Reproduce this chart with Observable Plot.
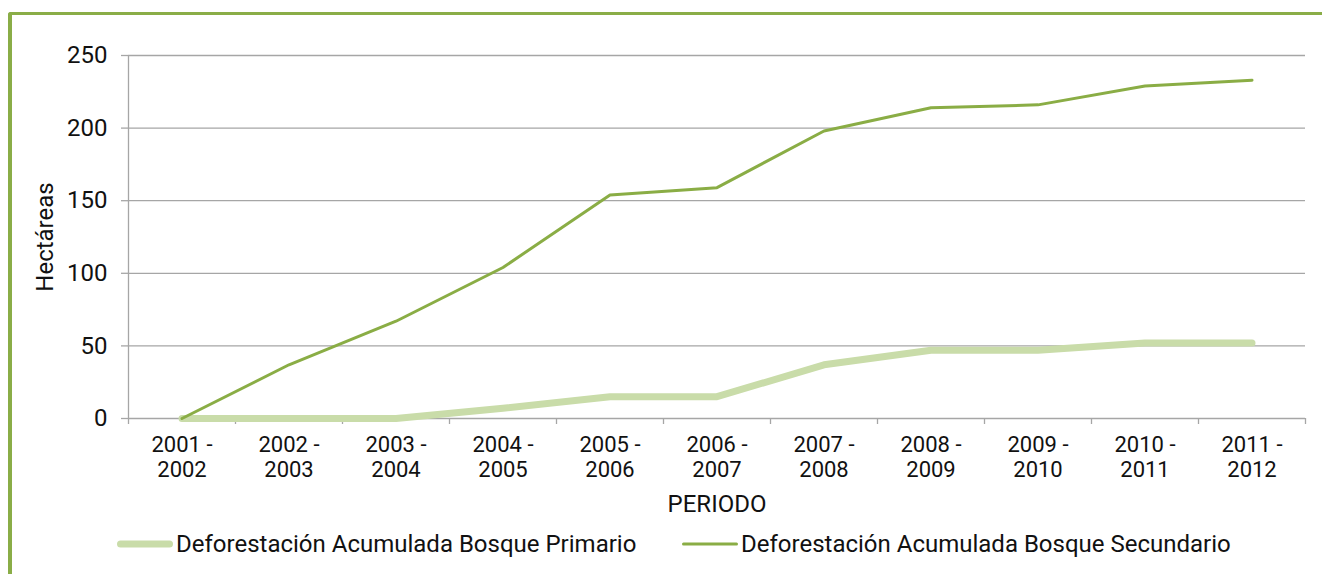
<!DOCTYPE html>
<html>
<head>
<meta charset="utf-8">
<script src="https://cdn.jsdelivr.net/npm/d3@7"></script>
<script src="https://cdn.jsdelivr.net/npm/@observablehq/plot@0.6"></script>
<style>
  html, body { margin: 0; padding: 0; background: #fff; width: 1322px; height: 574px; overflow: hidden; font-family: Roboto, sans-serif; }
  #frame { position: absolute; left: 8px; top: 12px; width: 2000px; height: 2000px; border-left: 4px solid #8aad47; border-top: 3px solid #8aad47; border-top-left-radius: 3px; }
  #chart { position: absolute; left: 0; top: 0; }
  #legend { position: absolute; left: 0; top: 528px; width: 1322px; height: 32px; font-size: 24px; color: #111; }
  .item { position: absolute; top: 0; display: flex; align-items: center; height: 32px; white-space: nowrap; }
  .item svg { margin-right: 2px; }
</style>
</head>
<body>
<div id="frame"></div>
<div id="chart"></div>
<div id="legend"></div>
<script>
const periodos = ["2001 - 2002","2002 - 2003","2003 - 2004","2004 - 2005","2005 - 2006","2006 - 2007","2007 - 2008","2008 - 2009","2009 - 2010","2010 - 2011","2011 - 2012"];
const primario   = [0, 0, 0, 7, 15, 15, 37, 47, 47, 52, 52];
const secundario = [0, 37, 67, 104, 154, 159, 198, 214, 216, 229, 233];
const yTicks = [0, 50, 100, 150, 200, 250];
const serieNames = ["Deforestación Acumulada Bosque Primario", "Deforestación Acumulada Bosque Secundario"];
const colors = ["#c9dca9", "#8aad45"];
const widths = [7, 3];

const rowsP = periodos.map((p, i) => ({pos: i + 0.5, periodo: p, valor: primario[i]}));
const rowsS = periodos.map((p, i) => ({pos: i + 0.5, periodo: p, valor: secundario[i]}));
const boundaries = d3.range(0, periodos.length + 1);
const centers = periodos.map((_, i) => i + 0.5);
const gray = "#a6a6a6";

const chart = Plot.plot({
  width: 1322,
  height: 522,
  marginLeft: 128,
  marginRight: 17,
  marginTop: 55,
  marginBottom: 104,
  style: {fontFamily: "Roboto", color: "#111", background: "transparent", overflow: "visible"},
  x: {type: "linear", domain: [0, periodos.length], axis: null},
  y: {domain: [0, 250], axis: null},
  marks: [
    Plot.gridY(yTicks, {stroke: gray, strokeOpacity: 1, strokeWidth: 1.3}),
    Plot.axisY(yTicks, {tickSize: 7, tickFormat: () => "", label: null, stroke: gray, strokeWidth: 1.3}),
    Plot.axisY(yTicks, {tickSize: 0, tickPadding: 21, fontSize: 24, label: null, fill: "#111"}),
    Plot.ruleX([0], {y1: 0, y2: 250, stroke: gray, strokeWidth: 1.3}),
    Plot.axisX(boundaries, {tickSize: 6, tickFormat: () => "", label: null, stroke: gray, strokeWidth: 1.3}),
    Plot.axisX(centers, {tickSize: 0, tickPadding: 16, fontSize: 22, lineHeight: 1.13, label: null, fill: "#111",
      tickFormat: d => periodos[Math.floor(d)].replace(" - ", " -\n")}),
    Plot.text(["PERIODO"], {frameAnchor: "bottom", dy: 93, fontSize: 24, fill: "#111"}),
    Plot.text(["Hectáreas"], {frameAnchor: "left", textAnchor: "middle", dx: -83, rotate: -90, fontSize: 24, fill: "#111"}),
    Plot.line(rowsP, {x: "pos", y: "valor", stroke: colors[0], strokeWidth: widths[0], strokeLinecap: "round", strokeLinejoin: "round"}),
    Plot.line(rowsS, {x: "pos", y: "valor", stroke: colors[1], strokeWidth: widths[1], strokeLinecap: "round", strokeLinejoin: "round"})
  ]
});
document.getElementById("chart").appendChild(chart);

const legend = document.getElementById("legend");
const lefts = [114, 679];
serieNames.forEach((name, k) => {
  const item = document.createElement("div");
  item.className = "item";
  item.style.left = lefts[k] + "px";
  item.innerHTML = `<svg width="60" height="14"><line x1="${3 + widths[k]/2}" y1="7" x2="${59 - widths[k]/2}" y2="7" stroke="${colors[k]}" stroke-width="${widths[k]}" stroke-linecap="round"/></svg><span>${name}</span>`;
  legend.appendChild(item);
});
</script>
</body>
</html>
